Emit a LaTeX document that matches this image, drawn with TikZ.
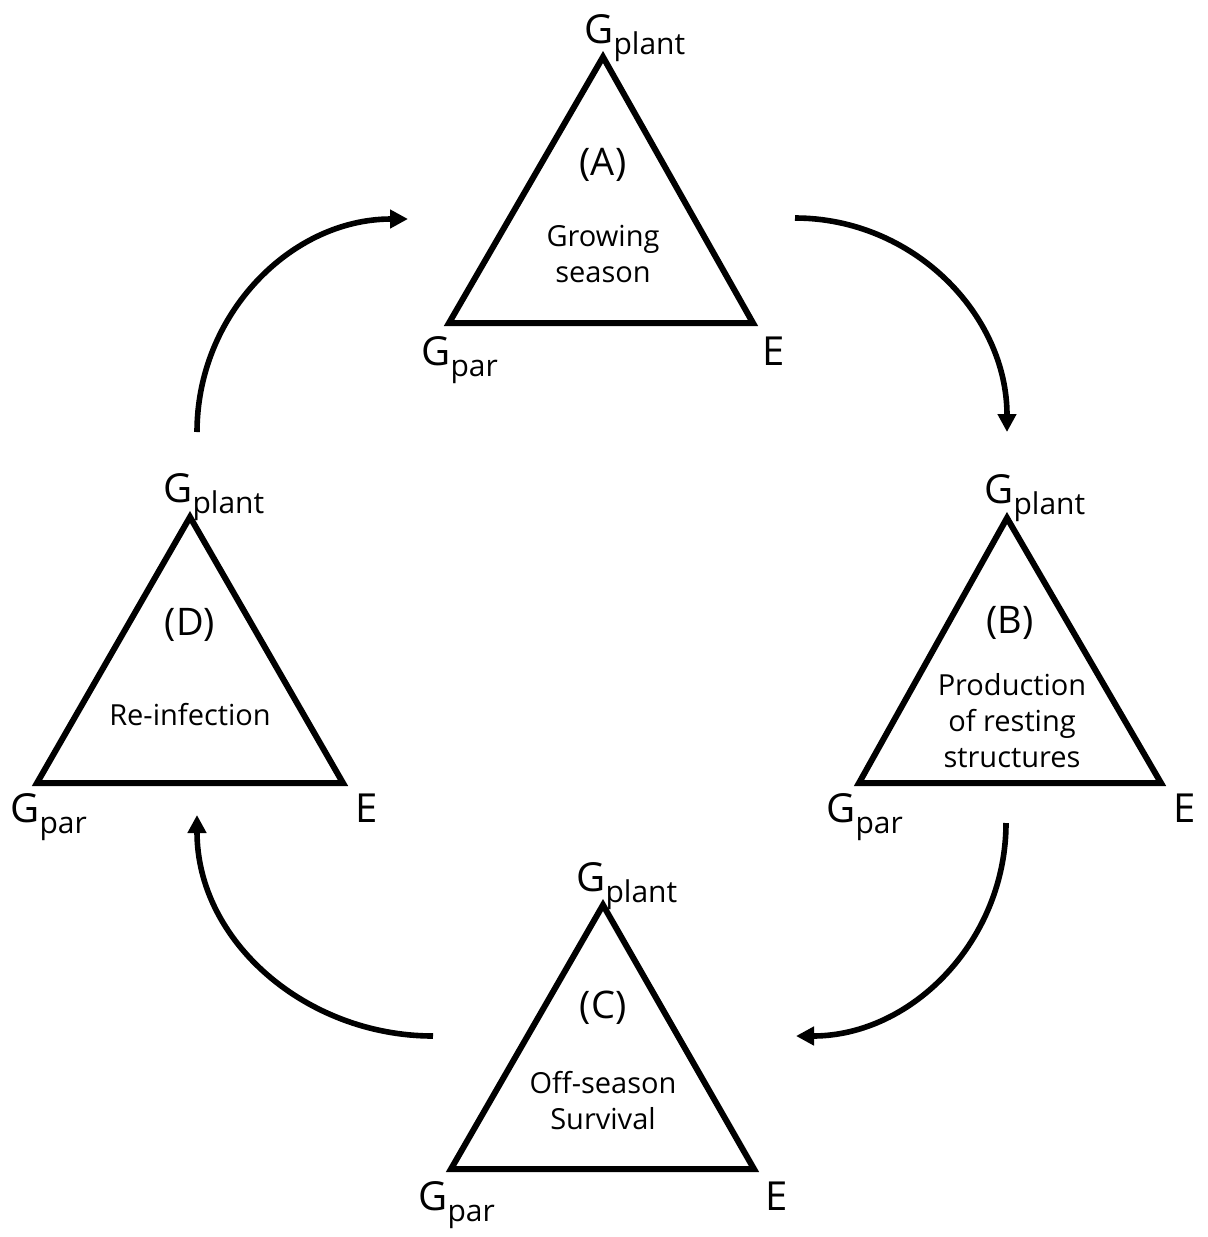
\documentclass[tikz,border=0pt]{standalone}
\usepackage{fontspec}
\setmainfont{Open Sans}
\usetikzlibrary{arrows.meta, calc}
\tikzstyle{tri} = [line width=3pt, line join=miter]
\tikzstyle{vert} = [inner sep=0pt, anchor=base west, font=\fontsize{20}{24}\selectfont]
\tikzstyle{tag} = [inner sep=0pt, font=\fontsize{19}{22}\selectfont]
\tikzstyle{desc} = [inner sep=0pt, align=center, font=\fontsize{14.5}{18}\selectfont]
\tikzstyle{arrow} = [line width=2.8pt, -{Triangle[length=9pt,width=9pt]}]
\newcommand{\subtxt}[1]{\raisebox{-5.5pt}{\fontsize{15}{15}\selectfont #1}}

\begin{document}
\begin{tikzpicture}[x=0.5pt, y=0.5pt]
    \useasboundingbox (0,0) rectangle (1207,-1237);

    % (A) growing season
    \coordinate (Atop) at (603,-57);
    \coordinate (Aleft) at (449,-323);
    \coordinate (Aright) at (753,-323);
    \draw [tri] (Atop) -- (Aleft) -- (Aright) -- cycle;
    \node (Aplant) [vert] at (584,-43) {G\subtxt{plant}};
    \node (Apar) [vert] at (421,-365) {G\subtxt{par}};
    \node (Aenv) [vert] at (762,-365) {E};
    \node (Atag) [tag] at (603,-165) {(A)};
    \node (Atext) [desc] at (603,-254) {Growing\\season};

    % (B) resting structures
    \coordinate (Btop) at (1007,-518);
    \coordinate (Bleft) at (859,-783);
    \coordinate (Bright) at (1161,-783);
    \draw [tri] (Btop) -- (Bleft) -- (Bright) -- cycle;
    \node (Bplant) [vert] at (984,-503) {G\subtxt{plant}};
    \node (Bpar) [vert] at (826,-822) {G\subtxt{par}};
    \node (Benv) [vert] at (1173,-822) {E};
    \node (Btag) [tag] at (1010,-623) {(B)};
    \node (Btext) [desc] at (1012,-721) {Production\\of resting\\structures};

    % (C) off-season
    \coordinate (Ctop) at (603,-905);
    \coordinate (Cleft) at (451,-1169);
    \coordinate (Cright) at (754,-1169);
    \draw [tri] (Ctop) -- (Cleft) -- (Cright) -- cycle;
    \node (Cplant) [vert] at (576,-891) {G\subtxt{plant}};
    \node (Cpar) [vert] at (418,-1210) {G\subtxt{par}};
    \node (Cenv) [vert] at (765,-1210) {E};
    \node (Ctag) [tag] at (603,-1008) {(C)};
    \node (Ctext) [desc] at (603,-1101) {Off-season\\Survival};

    % (D) re-infection
    \coordinate (Dtop) at (190,-517);
    \coordinate (Dleft) at (37,-783);
    \coordinate (Dright) at (343,-783);
    \draw [tri] (Dtop) -- (Dleft) -- (Dright) -- cycle;
    \node (Dplant) [vert] at (163,-502) {G\subtxt{plant}};
    \node (Dpar) [vert] at (10,-822) {G\subtxt{par}};
    \node (Denv) [vert] at (355,-822) {E};
    \node (Dtag) [tag] at (190,-625) {(D)};
    \node (Dtext) [desc] at (190,-715) {Re-infection};

    % cycle arrows
    \coordinate (ab1) at (795,-218);
    \coordinate (ab2) at (1007,-432);
    \coordinate (bc1) at (1006,-823);
    \coordinate (bc2) at (796,-1036);
    \coordinate (cd1) at (433,-1036);
    \coordinate (cd2) at (197,-815);
    \coordinate (da1) at (197,-432);
    \coordinate (da2) at (408,-219);
    \draw [arrow] (ab1) to[out=0,in=90] (ab2);
    \draw [arrow] (bc1) to[out=-90,in=0] (bc2);
    \draw [arrow] (cd1) to[out=180,in=-90] (cd2);
    \draw [arrow] (da1) to[out=90,in=180] (da2);
\end{tikzpicture}
\end{document}
